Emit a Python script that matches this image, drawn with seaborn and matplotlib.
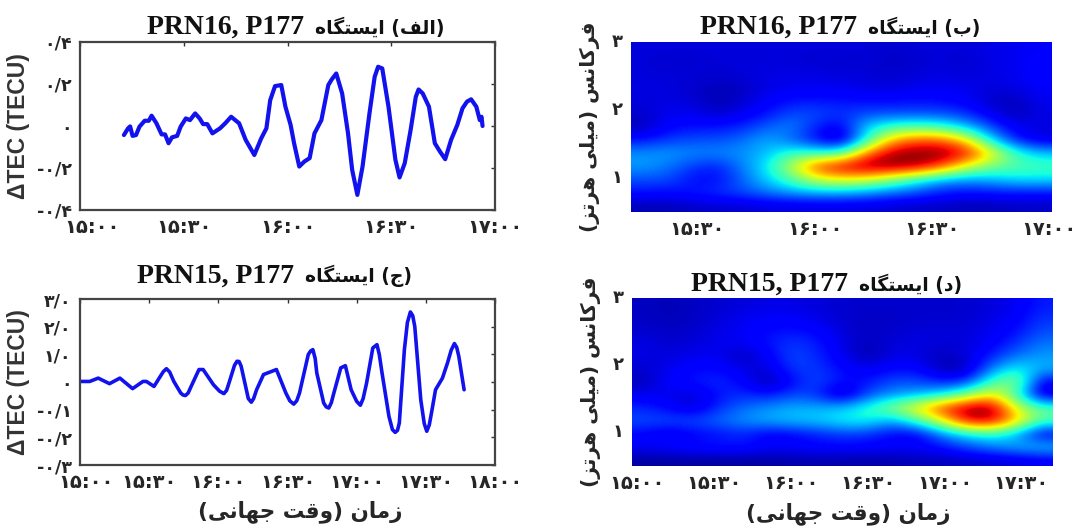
import numpy as np
import pandas as pd
import seaborn as sns
import matplotlib
matplotlib.use('Agg')
import matplotlib.pyplot as plt
from matplotlib.transforms import ScaledTranslation

# --- data ---
time_a = [12.7, 13.9, 14.5, 15.2, 16.2, 17.2, 18.7, 19.9, 20.7, 22.1, 23.6, 24.6, 25.6, 26.6, 28.1, 29.1, 30.6,
          31.8, 33.3, 34.6, 35.6, 36.8, 38.3, 40.5, 42, 43.7, 46, 47.9, 50.4, 52.4, 53.9, 55, 56.4, 58.2, 59.4,
          60.9, 61.9, 63.4, 64.9, 66.4, 67.8, 69.8, 71.8, 72.8, 74.1, 75.8, 77.5, 78.7, 80.2, 81.7, 83.7, 85.2,
          86.2, 87.4, 89.2, 91.2, 92.4, 93.9, 95.6, 97.1, 97.9, 99.1, 100.9, 102.6, 104.1, 105.6, 107.3, 109.1,
          110.6, 111.9, 113.1, 114.6, 115.6, 116.1, 116.4]
dtec_a = [-.043, -.011, -.002, -.047, -.043, -.003, .025, .025, .049, .013, -.04, -.04, -.082, -.054, -.047, -.003, .036,
          .028, .06, .036, .009, .009, -.035, -.011, .013, .044, .013, -.066, -.138, -.059, -.011, .123, .19, .195, .092,
          .005, -.082, -.193, -.169, -.153, -.035, .028, .195, .222, .25, .155, -.035, -.209, -.328, -.193, .06, .234,
          .282, .274, .092, -.161, -.245, -.177, -.019, .139, .174, .155, .092, -.082, -.122, -.158, -.066, .005,
          .084, .116, .127, .092, .028, .044, 0]

time_c = [0, 4.2, 7.9, 12.8, 17.3, 22.8, 27.3, 28.8, 32.1, 34.8, 36.2, 37.5, 38.9, 40.7, 43.7, 44.7, 45.7, 46.9, 48.2,
          51.6, 53.4, 57.9, 60.5, 62.4, 63.6, 64.6, 67, 68.1, 69, 69.9, 73, 74.3, 75.3, 76.6, 79.6, 85.2, 89.3, 91,
          92.7, 94, 95.2, 99, 100, 101, 102, 102.7, 105.7, 106.8, 107.9, 109, 110.1, 113.1, 115.1, 117.6, 120, 121.6,
          122.8, 124.3, 127, 128.8, 129.8, 131, 134, 135.5, 136.7, 137.7, 138.5, 140.7, 142, 143.3, 144.3, 145.2, 147.8,
          149.3, 150.4, 151.5, 152.7, 154.2, 157.2, 159.4, 161, 162.4, 163.4, 164.3, 166.6]
dtec_c = [.02, .02, .14, -.06, .14, -.24, .02, .02, -.16, .2, .38, .48, .36, .02, -.4, -.47, -.49, -.4, -.16,
          .45, .45, -.1, -.33, -.42, -.3, -.04, .6, .75, .74, .57, -.6, -.73, -.6, -.28, .27, .45, -.4, -.68,
          -.8, -.68, -.4, .99, 1.12, 1.17, .85, .33, -.76, -.9, -.94, -.75, -.4, .51, .59, -.28, -.7, -.84,
          -.6, -.04, 1.23, 1.35, 1.0, .33, -1.24, -1.72, -1.82, -1.75, -1.48, 1.17, 2.15, 2.53, 2.4, 2.01, -.64,
          -1.5, -1.78, -1.55, -1, -.28, .14, .69, 1.15, 1.39, 1.25, .93, -.28]

power_b = [
    [.08, .08, .08, .08, .08, .08, .08, .08, .08, .08, .07, .08, .08, .08, .09, .1, .11],
    [.08, .07, .07, .08, .08, .08, .08, .07, .07, .08, .06, .07, .08, .07, .09, .1, .12],
    [.08, .08, .08, .07, .08, .09, .09, .09, .08, .08, .07, .08, .09, .08, .09, .1, .12],
    [.09, .08, .07, .05, .06, .09, .1, .1, .1, .09, .08, .1, .1, .1, .08, .09, .11],
    [.08, .09, .08, .04, .07, .11, .14, .14, .14, .13, .13, .14, .13, .11, .07, .05, .1],
    [.07, .1, .1, .07, .1, .14, .2, .2, .17, .2, .2, .2, .2, .17, .1, .05, .09],
    [.05, .12, .14, .14, .16, .22, .26, .15, .1, .33, .42, .45, .42, .32, .2, .1, .09],
    [.14, .18, .2, .2, .23, .3, .22, .13, .03, .38, .72, .82, .82, .68, .35, .15, .08],
    [.27, .28, .26, .26, .27, .31, .42, .4, .42, .78, .96, 1, 1, .93, .68, .42, .32],
    [.28, .24, .18, .15, .25, .36, .58, .86, .95, 1, 1, .97, .85, .62, .5, .45, .43],
    [.2, .2, .13, .13, .22, .33, .45, .6, .65, .62, .52, .4, .3, .28, .3, .35, .35],
    [.14, .13, .15, .17, .2, .24, .28, .3, .3, .27, .23, .2, .15, .13, .14, .14, .14],
    [.05, .05, .06, .07, .07, .08, .08, .08, .08, .08, .07, .06, .06, .05, .05, .06, .06],
]
power_d = [
    [.06, .05, .06, .07, .08, .09, .09, .08, .07, .07, .07, .07, .07, .07, .08, .1, .15],
    [.06, .05, .06, .08, .1, .11, .11, .09, .07, .06, .06, .07, .07, .07, .09, .11, .17],
    [.07, .06, .07, .09, .11, .13, .14, .12, .08, .06, .07, .08, .08, .08, .1, .13, .2],
    [.09, .07, .08, .1, .1, .14, .18, .15, .09, .05, .08, .09, .08, .08, .11, .17, .24],
    [.09, .08, .1, .1, .05, .11, .2, .16, .1, .04, .09, .09, .05, .08, .15, .24, .28],
    [.07, .1, .13, .13, .09, .08, .18, .18, .13, .1, .13, .13, .05, .04, .25, .38, .3],
    [.05, .12, .14, .17, .12, .03, .13, .2, .13, .14, .2, .2, .15, .17, .42, .55, .1],
    [.1, .1, .07, .14, .17, .14, .2, .17, .03, .2, .27, .3, .36, .5, .68, .42, .06],
    [.16, .12, .07, .17, .23, .27, .3, .3, .32, .4, .52, .68, .86, .98, 1, .62, .45],
    [.2, .2, .2, .23, .27, .3, .32, .33, .37, .38, .28, .42, .62, .92, .95, .72, .45],
    [.12, .08, .12, .13, .16, .1, .12, .15, .18, .17, .12, .1, .25, .35, .4, .3, .08],
    [.11, .13, .14, .15, .15, .12, .12, .13, .13, .12, .12, .12, .14, .2, .25, .3, .33],
    [.03, .03, .03, .03, .03, .03, .04, .04, .04, .04, .04, .05, .05, .06, .07, .08, .1],
]

ticks_a = [0, 30, 60, 90, 120]
labels_a = ['۱۵:۰۰', '۱۵:۳۰', '۱۶:۰۰', '۱۶:۳۰', '۱۷:۰۰']
yticks_a = [-.4, -.2, 0, .2, .4]
ylabels_a = ['-۰/۴', '-۰/۲', '۰', '۰/۲', '۰/۴']
ticks_c = [0, 30, 60, 90, 120, 150, 180]
labels_c = ['۱۵:۰۰', '۱۵:۳۰', '۱۶:۰۰', '۱۶:۳۰', '۱۷:۰۰', '۱۷:۳۰', '۱۸:۰۰']
yticks_c = [-3, -2, -1, 0, 1, 2, 3]
ylabels_c = ['-۰/۳', '-۰/۲', '-۰/۱', '۰', '۱/۰', '۲/۰', '۳/۰']
ticks_b = [30, 60, 90, 120]
labels_b = ['۱۵:۳۰', '۱۶:۰۰', '۱۶:۳۰', '۱۷:۰۰']
ticks_d = [0, 30, 60, 90, 120, 150]
labels_d = ['۱۵:۰۰', '۱۵:۳۰', '۱۶:۰۰', '۱۶:۳۰', '۱۷:۰۰', '۱۷:۳۰']
freq_ticks = [1, 2, 3]
freq_labels = ['۱', '۲', '۳']

# matplotlib does not shape arabic script, so join the letters by hand
forms = {'ا': 'ﺍﺎ', 'ب': 'ﺏﺐﺑﺒ', 'ت': 'ﺕﺖﺗﺘ', 'ج': 'ﺝﺞﺟﺠ', 'د': 'ﺩﺪ', 'ر': 'ﺭﺮ', 'ز': 'ﺯﺰ',
         'س': 'ﺱﺲﺳﺴ', 'ف': 'ﻑﻒﻓﻔ', 'ق': 'ﻕﻖﻗﻘ', 'ک': 'ﮎﮏﮐﮑ', 'گ': 'ﮒﮓﮔﮕ', 'ل': 'ﻝﻞﻟﻠ',
         'م': 'ﻡﻢﻣﻤ', 'ن': 'ﻥﻦﻧﻨ', 'ه': 'ﻩﻪﻫﻬ', 'و': 'ﻭﻮ', 'ی': 'ﯼﯽﯾﯿ'}

def fa(text):
    out = []
    for i, ch in enumerate(text):
        if ch not in forms:
            out.append({'(': ')', ')': '('}.get(ch, ch))
            continue
        prev = text[i-1] if i > 0 else ' '
        nxt = text[i+1] if i < len(text)-1 else ' '
        joins_prev = prev in forms and len(forms[prev]) == 4
        joins_next = nxt in forms and len(forms[ch]) == 4
        if joins_prev and joins_next:
            out.append(forms[ch][3])
        elif joins_next:
            out.append(forms[ch][2])
        elif joins_prev:
            out.append(forms[ch][1])
        else:
            out.append(forms[ch][0])
    return ''.join(out[::-1])

sns.set_style('white')
plt.rcParams['font.family'] = ['DejaVu Sans']
W, H = 1081, 527
fig = plt.figure(figsize=(W/100, H/100), dpi=100)

def make_ax(x0, y0, x1, y1):
    return fig.add_axes([x0/W, 1-y1/H, (x1-x0)/W, (y1-y0)/H])

def title(latin, persian, x_split, y):
    # the latin part of the title is set larger than the persian part
    fig.text((x_split-5)/W, 1-y/H, latin, family='Liberation Serif', weight='bold', fontsize=20,
             ha='right', va='center', color='#111111')
    fig.text((x_split+6)/W, 1-y/H, fa(persian), weight='bold', fontsize=13.5,
             ha='left', va='center', color='#111111')

def line_panel(ax, t, v, xt, xl, yt, yl, xlim, ylim, lw, first_shift):
    sns.lineplot(x=t, y=v, ax=ax, color='#1212ee', lw=lw, estimator=None, sort=False)
    ax.set_xlim(*xlim)
    ax.set_ylim(*ylim)
    ax.set_xticks(xt, xl, fontsize=14, weight='bold')
    ax.set_yticks(yt, yl, fontsize=12.5, weight='bold')
    ax.tick_params(direction='in', length=3, width=1, color='#333333', top=True, right=True, pad=6)
    for s in ax.spines.values():
        s.set_visible(True)
        s.set_color('#444444')
        s.set_linewidth(1.6)
    # the first time label sits a little inside the axis start
    first = ax.get_xticklabels()[0]
    first.set_transform(first.get_transform() + ScaledTranslation(first_shift/100, 0, fig.dpi_scale_trans))
    ax.set_ylabel('ΔTEC (TECU)', family='Liberation Sans', weight='bold', fontsize=16.5, color='#333333')
    ax.yaxis.set_label_coords(-50/415, .5)

def map_panel(ax, grid, xt, xl, xlim):
    rows, cols = np.shape(grid)
    sns.heatmap(pd.DataFrame(grid), ax=ax, cmap='jet', vmin=0, vmax=1, cbar=False)
    # smooth the cells the way the original image does
    ax.imshow(grid, cmap='jet', vmin=0, vmax=1, interpolation='bicubic', aspect='auto',
              extent=(0, cols, rows, 0), zorder=2)
    ax.set_xlim(0, cols)
    ax.set_ylim(rows, 0)
    ax.set_xticks([(m-xlim[0])/(xlim[1]-xlim[0])*cols for m in xt], xl, fontsize=14, weight='bold', rotation=0)
    ax.set_yticks([(3-f)/2.5*rows for f in freq_ticks], freq_labels, fontsize=13, weight='bold', rotation=0)
    ax.tick_params(length=0, pad=6)
    ax.set_ylabel(fa('فرکانس (میلی هرتز)'), fontsize=14.5, weight='bold')
    ax.yaxis.set_label_coords(-31/421, .5)

xlabel_text = fa('زمان (وقت جهانی)')

ax_a = make_ax(80, 42, 495, 210)
line_panel(ax_a, time_a, dtec_a, ticks_a, labels_a, yticks_a, ylabels_a, (0, 120), (-.4, .4), 3, 12)
title('PRN16, P177', '(الف) ایستگاه', 309, 27)

ax_c = make_ax(80, 299, 495, 465)
line_panel(ax_c, time_c, dtec_c, ticks_c, labels_c, yticks_c, ylabels_c, (0, 180), (-3, 3), 2.6, 6)
title('PRN15, P177', '(ج) ایستگاه', 299, 276)
ax_c.set_xlabel(xlabel_text, fontsize=15.5, weight='bold')
ax_c.xaxis.set_label_coords(.53, -.215)

ax_b = make_ax(631, 42, 1052, 212)
map_panel(ax_b, power_b, ticks_b, labels_b, (13, 120.8))
title('PRN16, P177', '(ب) ایستگاه', 862, 27)

ax_d = make_ax(632, 298, 1052, 466)
map_panel(ax_d, power_d, ticks_d, labels_d, (-2, 162))
title('PRN15, P177', '(د) ایستگاه', 853, 284)
ax_d.set_xlabel(xlabel_text, fontsize=15.5, weight='bold')
ax_d.xaxis.set_label_coords(.514, -.215)

fig.savefig('out.png', dpi=100)
